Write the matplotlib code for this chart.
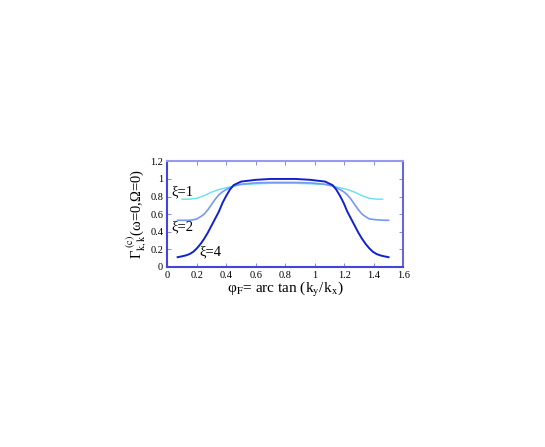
import numpy as np
import matplotlib
matplotlib.use("Agg")
import matplotlib.pyplot as plt

plt.rcParams['font.family'] = ['Liberation Serif', 'DejaVu Serif']
plt.rcParams['mathtext.fontset'] = 'stix'

# values (curves are symmetric about pi/4)
phi_1 = [0.10, 0.125, 0.15, 0.175, 0.20, 0.225, 0.25, 0.275, 0.30, 0.325, 0.35, 0.375,
         0.40, 0.45, 0.50, 0.60, 0.70, 0.785, 0.87, 0.97, 1.07, 1.12, 1.17, 1.195,
         1.22, 1.245, 1.27, 1.295, 1.32, 1.345, 1.37, 1.395, 1.42, 1.445, 1.46]
gam_1 = [0.77, 0.77, 0.77, 0.775, 0.78, 0.795, 0.81, 0.83, 0.85, 0.865, 0.88, 0.89,
         0.90, 0.92, 0.935, 0.945, 0.95, 0.95, 0.95, 0.945, 0.935, 0.92, 0.90, 0.89,
         0.88, 0.865, 0.85, 0.83, 0.81, 0.795, 0.78, 0.775, 0.77, 0.77, 0.77]

phi_2 = [0.07, 0.10, 0.15, 0.175, 0.20, 0.225, 0.25, 0.275, 0.30, 0.325, 0.35, 0.375,
         0.40, 0.45, 0.50, 0.60, 0.70, 0.785, 0.87, 0.97, 1.07, 1.12, 1.17, 1.195,
         1.22, 1.245, 1.27, 1.295, 1.32, 1.345, 1.37, 1.42, 1.47, 1.50]
gam_2 = [0.53, 0.53, 0.53, 0.535, 0.545, 0.57, 0.60, 0.65, 0.71, 0.77, 0.82, 0.855,
         0.88, 0.92, 0.94, 0.955, 0.96, 0.96, 0.96, 0.955, 0.94, 0.92, 0.88, 0.855,
         0.82, 0.77, 0.71, 0.65, 0.60, 0.57, 0.545, 0.535, 0.53, 0.53]

phi_4 = [0.07, 0.10, 0.125, 0.15, 0.175, 0.20, 0.225, 0.25, 0.275, 0.30, 0.325, 0.35,
         0.375, 0.40, 0.425, 0.45, 0.50, 0.60, 0.70, 0.785, 0.87, 0.97, 1.07, 1.12,
         1.145, 1.17, 1.195, 1.22, 1.245, 1.27, 1.295, 1.32, 1.345, 1.37, 1.395,
         1.42, 1.445, 1.47, 1.50]
gam_4 = [0.11, 0.12, 0.13, 0.145, 0.17, 0.21, 0.26, 0.32, 0.39, 0.47, 0.55, 0.63,
         0.73, 0.81, 0.88, 0.93, 0.97, 0.99, 1.00, 1.00, 1.00, 0.99, 0.97, 0.93,
         0.88, 0.81, 0.73, 0.63, 0.55, 0.47, 0.39, 0.32, 0.26, 0.21, 0.17,
         0.145, 0.13, 0.12, 0.11]

fig = plt.figure(figsize=(5.45, 4.47), dpi=100)
ax = fig.add_axes([0.307, 0.403, 0.433, 0.236])

ax.plot(phi_1, gam_1, color='#66e0f0', lw=1.0)
ax.plot(phi_2, gam_2, color='#7799f0', lw=1.2)
ax.plot(phi_4, gam_4, color='#1122cc', lw=1.4)

ax.text(0.03, 0.85, 'ξ=1', fontsize=10.5, va='center')
ax.text(0.03, 0.45, 'ξ=2', fontsize=10.5, va='center')
ax.text(0.22, 0.17, 'ξ=4', fontsize=10.5, va='center')

ax.set_xlim(0, 1.6)
ax.set_ylim(0, 1.2)
ax.set_xticks(np.arange(0, 1.61, 0.2))
ax.set_xticklabels(['0', '0.2', '0.4', '0.6', '0.8', '1', '1.2', '1.4', '1.6'])
ax.set_yticks(np.arange(0, 1.21, 0.2))
ax.set_yticklabels(['0', '0.2', '0.4', '0.6', '0.8', '1', '1.2'])
ax.tick_params(direction='in', top=True, right=True, length=3, width=0.6,
               labelsize=7.5, colors='#7777dd', labelcolor='black', pad=3)

for side in ['left', 'bottom']:
    ax.spines[side].set_color('#4444dd')
ax.spines['right'].set_color('#6666dd')
ax.spines['top'].set_color('#9999ee')
for s in ax.spines.values():
    s.set_linewidth(1.5)

ax.set_xlabel(r'φ$_{\mathrm{F}}$= arc tan (k$_{\mathrm{y}}$/k$_{\mathrm{x}}$)', fontsize=11, labelpad=0)
ax.set_ylabel(r'Γ$_{\mathrm{k,k}}^{\ \mathrm{(c)}}$(ω=0,Ω=0)', fontsize=10.5, labelpad=1)

fig.savefig('out.png', dpi=100)
